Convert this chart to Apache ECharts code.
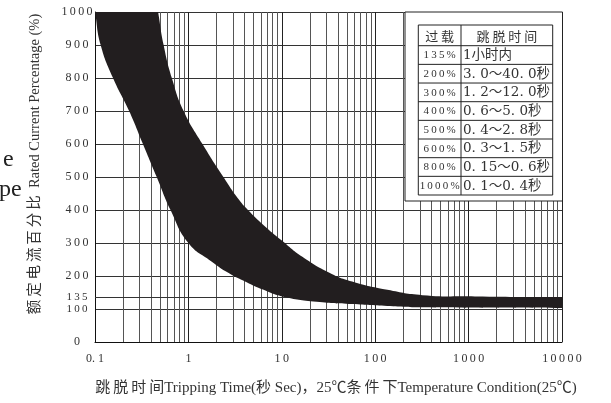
<!DOCTYPE html>
<html>
<head>
<meta charset="utf-8">
<script src="https://cdn.jsdelivr.net/npm/echarts@6/dist/echarts.min.js"></script>
<style>html,body{margin:0;padding:0;background:#fff}#c{width:611px;height:403px}</style>
</head>
<body>
<div id="c"></div>
<script>
// ---- data ----
// lower-left edge of the tripping band (time s, % rated current)
const lowerX = [0.1, 0.115, 0.156, 0.232, 0.326, 0.458, 0.644, 1.0, 1.75, 2.70, 4.15, 6.39, 9.85, 23.6, 56.6, 135, 320, 10000];
const lowerY = [1000, 900, 800, 700, 600, 500, 400, 300, 245, 209, 182, 158, 139, 122, 115, 109, 105, 103];
// upper-right edge of the tripping band
const upperX = [0.474, 0.543, 0.665, 0.889, 1.415, 2.37, 3.50, 4.34, 6.39, 9.85, 16.6, 30.7, 56.6, 135, 320, 1170, 10000];
const upperY = [1000, 900, 800, 700, 600, 500, 430, 400, 354, 309, 258, 213, 183, 158, 142, 138, 136];
// axis ticks
const xTickLabels = ['0. 1', '1', '10', '100', '1000', '10000'];
const yTickValues = [0, 100, 135, 200, 300, 400, 500, 600, 700, 800, 900, 1000];
const minorX = [0.2,0.3,0.4,0.5,0.6,0.7,0.8,0.9, 2,3,4,5,6,7,8,9, 20,30,40,50,60,70,80,90,
                200,300,400,500,600,700,800,900, 2000,3000,4000,5000,6000,7000,8000,9000];
// table
const tableHead = ['过载', '跳脱时间'];
const overload = ['135%', '200%', '300%', '400%', '500%', '600%', '800%', '1000%'];
const tripTime = ['1小时内', '3. 0～40. 0秒', '1. 2～12. 0秒', '0. 6～5. 0秒', '0. 4～2. 8秒', '0. 3～1. 5秒', '0. 15～0. 6秒', '0. 1～0. 4秒'];
// titles
const xTitle = '跳脱时间Tripping Time(秒 Sec)，25℃条件下Temperature Condition(25℃)';
const yTitleCn = '额定电流百分比';
const yTitleEn = 'Rated Current Percentage (%)';

const sp = s => String(s).split('').join('\u2009');
const spCjk = s => s.replace(/([\u4e00-\u9fff])(?=[\u4e00-\u9fff])/g, '$1\u2009');

const chart = echarts.init(document.getElementById('c'), null, {renderer: 'canvas'});

// table graphic
const T = {ox0: 405, ox1: 562.5, oy0: 12, oy1: 201, x0: 418.3, x1: 552.7, xm: 461, y0: 25, yh: 45.7, y1: 195};
const rowH = (T.y1 - T.yh) / overload.length;
const tbl = [];
tbl.push({type: 'rect', z: 100, shape: {x: T.ox0, y: T.oy0, width: T.ox1 - T.ox0, height: T.oy1 - T.oy0},
  style: {fill: '#fff', stroke: '#222', lineWidth: 1}});
tbl.push({type: 'rect', z: 101, shape: {x: T.x0, y: T.y0, width: T.x1 - T.x0, height: T.y1 - T.y0},
  style: {fill: '#fff', stroke: '#222', lineWidth: 1}});
tbl.push({type: 'line', z: 102, shape: {x1: T.xm, y1: T.y0, x2: T.xm, y2: T.y1}, style: {stroke: '#222', lineWidth: 1}});
const rowTops = [T.y0, T.yh];
for (let i = 1; i <= overload.length; i++) rowTops.push(T.yh + i * rowH);
for (let i = 1; i < rowTops.length - 1; i++) {
  tbl.push({type: 'line', z: 102, shape: {x1: T.x0, y1: rowTops[i], x2: T.x1, y2: rowTops[i]}, style: {stroke: '#222', lineWidth: 1}});
}
tbl.push({type: 'text', z: 103, x: (T.x0 + T.xm) / 2, y: (T.y0 + T.yh) / 2 + 1,
  style: {text: tableHead[0].split('').join(' '), font: "13px 'Noto Sans CJK SC'", fill: '#333', align: 'center', verticalAlign: 'middle'}});
tbl.push({type: 'text', z: 103, x: (T.xm + T.x1) / 2, y: (T.y0 + T.yh) / 2 + 1,
  style: {text: tableHead[1].split('').join(' '), font: "13px 'Noto Sans CJK SC'", fill: '#333', align: 'center', verticalAlign: 'middle'}});
overload.forEach((o, i) => {
  const cy = (rowTops[i + 1] + rowTops[i + 2]) / 2 + 0.5;
  tbl.push({type: 'text', z: 103, x: (T.x0 + T.xm) / 2, y: cy,
    style: {text: sp(o), font: "11px 'Liberation Serif'", fill: '#333', align: 'center', verticalAlign: 'middle'}});
  tbl.push({type: 'text', z: 103, x: T.xm + 2, y: cy,
    style: {text: tripTime[i], font: "13.5px 'DejaVu Serif', 'Noto Sans CJK SC'", fill: '#333', align: 'left', verticalAlign: 'middle'}});
});

const option = {
  animation: false,
  backgroundColor: '#fff',
  grid: {left: 95, right: 49, top: 12, bottom: 61, containLabel: false},
  xAxis: {
    type: 'log', logBase: 10, min: 0.1, max: 10000,
    axisLine: {show: true, lineStyle: {color: '#111', width: 1}},
    axisTick: {show: false},
    splitLine: {show: true, lineStyle: {color: '#222', width: 1}},
    axisLabel: {
      margin: 11, color: '#333', fontSize: 12, fontFamily: 'Liberation Serif',
      formatter: v => {
        const e = Math.round(Math.log10(v));
        const s = xTickLabels[e + 1];
        return e === -1 ? s : sp(s);
      }
    }
  },
  yAxis: {
    type: 'value', min: 0, max: 1000, interval: 100,
    axisLine: {show: true, lineStyle: {color: '#111', width: 1}},
    axisTick: {show: false, customValues: yTickValues},
    splitLine: {show: true, lineStyle: {color: '#333', width: 1}},
    axisLabel: {
      customValues: yTickValues,
      align: 'center', margin: 18, color: '#333', fontSize: 12, fontFamily: 'Liberation Serif',
      formatter: v => (v === 135 || v === 100) ? '{s|' + sp(v) + '}' : sp(v),
      rich: {s: {fontSize: 11, fontFamily: 'Liberation Serif', color: '#333', lineHeight: 10}}
    }
  },
  graphic: [
    {type: 'text', x: 35, y: 164, rotation: Math.PI / 2, z: 50,
      style: {text: spCjk(yTitleCn) + '  ' + yTitleEn, font: "14.5px 'Liberation Serif', 'Noto Sans CJK SC'", fill: '#333', align: 'center', verticalAlign: 'middle'}},
    {type: 'text', x: 336, y: 388, z: 50,
      style: {text: spCjk(xTitle), font: "15px 'Liberation Serif', 'Noto Sans CJK SC'", fill: '#333', align: 'center', verticalAlign: 'middle'}},
    {type: 'text', x: 3, y: 148, z: 50, style: {text: 'e', font: "24px 'Liberation Serif'", fill: '#222', align: 'left', verticalAlign: 'alphabetic'}},
    {type: 'text', x: -1, y: 178, z: 50, style: {text: 'pe', font: "24px 'Liberation Serif'", fill: '#222', align: 'left', verticalAlign: 'alphabetic'}}
  ].concat(tbl),
  series: [
    {
      type: 'line', data: [], z: 1, silent: true,
      markLine: {
        silent: true, symbol: 'none', z: 1, animation: false,
        label: {show: false},
        lineStyle: {color: '#555', width: 1, type: 'solid'},
        data: minorX.map(v => ({xAxis: v})).concat([{yAxis: 135, lineStyle: {color: '#333'}}])
      }
    },
    {
      type: 'custom', z: 10, silent: true,
      coordinateSystem: 'cartesian2d',
      data: [[1, 500]],
      renderItem: function (params, api) {
        if (params.dataIndex !== 0) return;
        const pts = [];
        const lo = lowerX.map((x, i) => api.coord([x, lowerY[i]]));
        const up = upperX.map((x, i) => api.coord([x, upperY[i]])).reverse();
        // duplicate corner points so that the smoothing keeps sharp corners
        pts.push(lo[0]);
        lo.forEach(p => pts.push(p));
        pts.push(lo[lo.length - 1]);
        pts.push(up[0]);
        up.forEach(p => pts.push(p));
        pts.push(up[up.length - 1]);
        const a = api.coord([0.1, 1000]), b = api.coord([10000, 0]);
        return {
          type: 'polygon',
          shape: {points: pts, smooth: 0.5, smoothConstraint: [[a[0], a[1]], [b[0], b[1]]]},
          style: {fill: '#221e1f', stroke: null}
        };
      }
    }
  ]
};
chart.setOption(option);
</script>
</body>
</html>
